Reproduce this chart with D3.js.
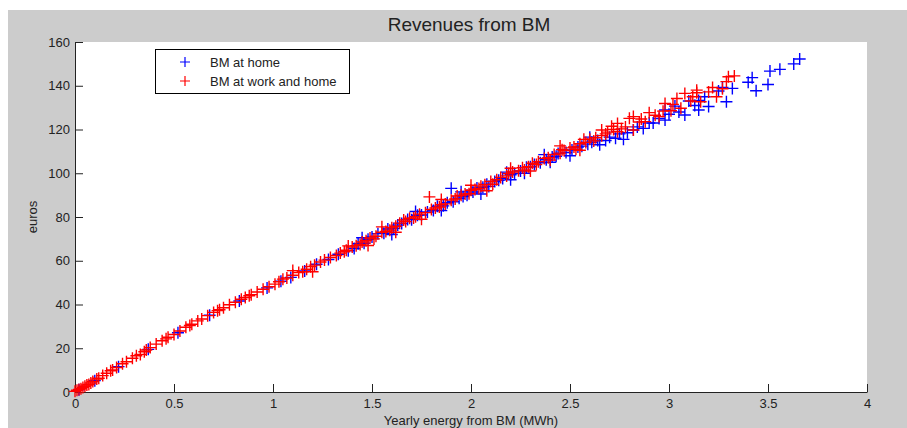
<!DOCTYPE html>
<html>
<head>
<meta charset="utf-8">
<script src="https://d3js.org/d3.v7.min.js"></script>
<style>
body { margin: 0; background: #fff; }
text { font-family: "Liberation Sans", Arial, sans-serif; fill: #222; }
</style>
</head>
<body>
<script>
// values: [MWh, euros]
var bmHome = [
  [0.02,1.0],[0.10,5.2],[0.22,11.6],[0.37,19.5],[0.52,27.1],[0.68,35.1],[0.83,41.6],[0.97,47.6],
  [1.04,50.6],[1.09,52.4],[1.16,55.3],[1.22,58.4],[1.28,60.6],[1.33,63.0],[1.38,64.6],[1.41,65.6],
  [1.43,67.8],[1.45,70.5],[1.46,68.0],[1.48,69.8],[1.50,70.9],[1.53,72.4],[1.56,72.6],[1.58,74.5],
  [1.60,72.0],[1.61,74.8],[1.63,76.3],[1.65,77.0],[1.68,78.9],[1.70,78.8],[1.72,82.5],[1.73,80.8],
  [1.75,80.9],[1.78,82.3],[1.81,83.0],[1.83,84.9],[1.85,83.0],[1.86,85.1],[1.88,86.5],[1.90,93.1],
  [1.91,87.0],[1.94,88.6],[1.95,91.5],[1.96,89.4],[1.98,90.0],[2.01,91.4],[2.03,93.3],[2.05,90.5],
  [2.06,93.6],[2.08,95.0],[2.09,94.0],[2.12,96.2],[2.14,96.8],[2.16,97.6],[2.18,100.5],[2.20,97.0],
  [2.20,99.3],[2.22,99.9],[2.25,101.0],[2.27,100.0],[2.28,102.7],[2.30,103.0],[2.32,104.0],[2.35,104.8],
  [2.37,108.5],[2.38,106.2],[2.40,105.0],[2.41,107.4],[2.43,107.8],[2.44,109.0],[2.48,109.5],[2.50,108.0],
  [2.51,110.6],[2.54,112.0],[2.56,112.4],[2.59,113.3],[2.60,116.5],[2.61,114.2],[2.64,115.0],[2.65,113.0],
  [2.68,115.0],[2.70,116.5],[2.73,116.0],[2.75,118.0],[2.77,115.5],[2.79,118.5],[2.82,119.8],
  [2.84,121.2],[2.87,120.5],[2.90,123.0],[2.92,123.0],[2.95,125.0],[2.98,124.3],[2.98,128.9],[3.00,127.0],
  [3.03,130.7],[3.05,128.0],[3.08,126.6],[3.10,133.0],[3.13,131.0],[3.15,128.9],[3.15,133.3],[3.18,135.0],
  [3.20,130.5],[3.25,137.6],[3.27,139.2],[3.29,132.7],[3.32,138.8],[3.40,141.6],[3.42,143.7],[3.44,137.7],
  [3.50,140.6],[3.51,146.7],[3.56,147.5],[3.63,150.0],[3.66,152.2]
];

var bmWorkHome = [
  [0.00,0.3],[0.01,0.8],[0.02,1.2],[0.03,1.5],[0.04,2.1],[0.05,2.6],[0.06,3.2],[0.07,3.4],[0.08,4.1],
  [0.09,4.8],[0.11,5.9],[0.12,6.3],[0.14,7.5],[0.16,8.6],[0.18,9.7],[0.19,10.1],[0.21,11.2],[0.24,12.9],
  [0.26,13.8],[0.29,15.4],[0.31,16.6],[0.33,17.2],[0.35,18.4],[0.36,19.2],[0.38,20.3],[0.41,21.9],
  [0.44,23.4],[0.46,24.3],[0.47,25.0],[0.50,26.3],[0.53,27.9],[0.56,29.6],[0.58,30.4],[0.59,31.0],
  [0.62,32.5],[0.64,33.4],[0.67,34.9],[0.70,36.4],[0.72,37.2],[0.73,37.6],[0.75,38.5],[0.78,39.9],
  [0.81,41.0],[0.84,42.4],[0.86,43.2],[0.88,44.0],[0.89,44.5],[0.92,45.7],[0.95,47.0],[0.98,48.1],
  [1.01,49.3],[1.03,50.4],[1.05,51.6],[1.07,52.1],[1.10,53.4],[1.10,55.5],[1.13,54.6],[1.15,55.0],
  [1.17,56.1],[1.19,57.3],[1.20,55.0],[1.21,58.0],[1.24,59.4],[1.26,60.3],[1.29,61.5],[1.32,62.4],
  [1.34,63.5],[1.36,64.1],[1.37,64.8],[1.38,66.8],[1.40,66.3],[1.42,66.9],[1.44,67.4],[1.45,68.6],
  [1.47,69.2],[1.48,67.0],[1.49,70.4],[1.51,70.0],[1.52,71.2],[1.55,73.0],[1.55,75.5],[1.57,73.4],
  [1.59,74.0],[1.60,75.1],[1.62,73.0],[1.62,75.8],[1.64,77.2],[1.66,78.6],[1.67,77.9],[1.69,79.4],
  [1.71,79.5],[1.72,80.1],[1.74,81.3],[1.75,79.0],[1.77,82.0],[1.79,89.2],[1.80,83.4],[1.82,84.1],
  [1.84,84.6],[1.85,85.6],[1.85,88.0],[1.87,86.0],[1.90,87.7],[1.92,88.2],[1.93,89.6],[1.95,89.9],
  [1.97,90.5],[1.99,90.6],[2.00,92.2],[2.00,94.5],[2.02,92.6],[2.04,93.0],[2.05,94.1],[2.07,94.8],
  [2.08,92.0],[2.10,96.2],[2.11,95.0],[2.13,97.0],[2.15,98.1],[2.18,98.8],[2.19,99.9],[2.20,102.3],
  [2.21,100.6],[2.24,101.1],[2.26,102.5],[2.27,101.5],[2.29,103.0],[2.30,101.0],[2.31,104.6],[2.33,104.0],
  [2.34,105.3],[2.37,106.8],[2.39,107.1],[2.40,106.0],[2.42,108.6],[2.45,109.2],[2.45,112.5],[2.46,110.8],
  [2.47,110.4],[2.50,111.6],[2.52,112.0],[2.53,111.0],[2.55,110.5],[2.55,113.5],[2.57,115.5],[2.58,114.1],
  [2.60,115.6],[2.62,114.8],[2.63,116.2],[2.66,119.8],[2.66,117.2],[2.68,118.0],[2.69,118.8],[2.71,121.5],
  [2.72,120.0],[2.74,122.8],[2.74,119.0],[2.76,120.3],[2.78,121.2],[2.80,125.1],[2.82,125.9],[2.82,119.8],
  [2.85,123.4],[2.86,124.8],[2.88,123.6],[2.90,127.7],[2.93,126.5],[2.95,125.9],[2.97,128.4],[2.98,131.9],
  [3.01,128.6],[3.02,131.5],[3.04,134.2],[3.06,129.7],[3.08,136.5],[3.11,133.0],[3.12,135.0],[3.14,138.0],
  [3.14,136.8],[3.16,132.7],[3.20,137.2],[3.22,139.2],[3.24,135.0],[3.27,138.6],[3.29,141.9],[3.30,144.1],
  [3.33,144.5]
];

var xTicks = [0, 0.5, 1, 1.5, 2, 2.5, 3, 3.5, 4];
var yTicks = [0, 20, 40, 60, 80, 100, 120, 140, 160];
var seriesNames = ["BM at home", "BM at work and home"];
var seriesColors = ["#0000ff", "#ff0000"];

var W = 907, H = 428;
var pLeft = 75, pRight = 867, pTop = 42, pBottom = 392;

var svg = d3.select("body").append("svg")
    .attr("width", W)
    .attr("height", H);

// figure background
svg.append("rect")
    .attr("x", 8).attr("y", 10)
    .attr("width", W - 8).attr("height", H - 10)
    .attr("fill", "#cccccc");

svg.append("rect")
    .attr("x", pLeft).attr("y", pTop)
    .attr("width", pRight - pLeft).attr("height", pBottom - pTop)
    .attr("fill", "#fff");

var x = d3.scaleLinear().domain([0, 4]).range([pLeft, pRight]);
var y = d3.scaleLinear().domain([0, 160]).range([pBottom, pTop]);

var xAxis = d3.axisBottom(x)
    .tickValues(xTicks)
    .tickFormat(d3.format(""))
    .tickSizeInner(-8).tickSizeOuter(0).tickPadding(7);

var yAxis = d3.axisLeft(y)
    .tickValues(yTicks)
    .tickFormat(d3.format(""))
    .tickSizeInner(-8).tickSizeOuter(0).tickPadding(5);

var gx = svg.append("g").attr("transform", "translate(0," + pBottom + ")").call(xAxis);
var gy = svg.append("g").attr("transform", "translate(" + pLeft + ",0)").call(yAxis);

[gx, gy].forEach(function(g) {
    g.selectAll("path, line").attr("stroke", "#222");
    g.selectAll("text")
        .style("font-family", "'Liberation Sans', Arial, sans-serif")
        .style("font-size", "13px")
        .attr("fill", "#222");
});

var plus = "M-6,0H6M0,-6V6";

function drawSeries(data, color) {
    svg.append("g").selectAll("path")
        .data(data)
        .enter().append("path")
        .attr("d", plus)
        .attr("transform", function(d) { return "translate(" + x(d[0]) + "," + y(d[1]) + ")"; })
        .attr("fill", "none")
        .attr("stroke", color)
        .attr("stroke-width", 1.4);
}
drawSeries(bmHome, seriesColors[0]);
drawSeries(bmWorkHome, seriesColors[1]);

// title and labels
svg.append("text")
    .attr("x", (pLeft + pRight) / 2 - 2).attr("y", 31)
    .attr("text-anchor", "middle")
    .style("font-size", "19px")
    .text("Revenues from BM");

svg.append("text")
    .attr("x", (pLeft + pRight) / 2).attr("y", 425)
    .attr("text-anchor", "middle")
    .style("font-size", "13px")
    .text("Yearly energy from BM (MWh)");

svg.append("text")
    .attr("transform", "translate(37," + ((pTop + pBottom) / 2) + ") rotate(-90)")
    .attr("text-anchor", "middle")
    .style("font-size", "13px")
    .text("euros");

// legend
var lg = svg.append("g");
lg.append("rect")
    .attr("x", 155.5).attr("y", 49.5)
    .attr("width", 194).attr("height", 44)
    .attr("fill", "#fff")
    .attr("stroke", "#000");

seriesNames.forEach(function(name, i) {
    var yy = 62 + i * 19;
    lg.append("path")
        .attr("d", "M-5,0H5M0,-5V5")
        .attr("transform", "translate(185," + yy + ")")
        .attr("fill", "none")
        .attr("stroke", seriesColors[i])
        .attr("stroke-width", 1.2);
    lg.append("text")
        .attr("x", 210).attr("y", yy + 4.5)
        .style("font-size", "13px")
        .text(name);
});
</script>
</body>
</html>
